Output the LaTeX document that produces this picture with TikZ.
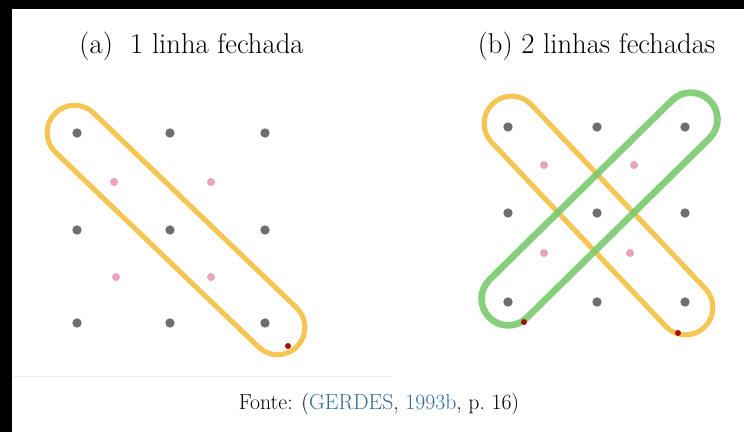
\documentclass[tikz,border=0pt]{standalone}
\usepackage{xcolor}
\usetikzlibrary{positioning}

\definecolor{dotgray}{HTML}{6E6E6E}
\definecolor{dotpink}{HTML}{E9A3C0}
\definecolor{endred}{HTML}{A50F0F}
\definecolor{loopyel}{HTML}{F5C654}
\definecolor{loopgrn}{HTML}{7BC96F}
\definecolor{citeblue}{HTML}{2E6B97}

\begin{document}
\begin{tikzpicture}[
  x=0.75pt, y=-0.75pt,
  g/.style={circle, fill=dotgray, inner sep=0pt, minimum size=7pt},
  p/.style={circle, fill=dotpink, inner sep=0pt, minimum size=6pt},
  e/.style={circle, fill=endred, inner sep=0pt, minimum size=4.5pt},
  lp/.style={draw=loopyel, line width=3.8pt, inner sep=0pt,
             minimum height=41pt, rounded corners=20.5pt},
  lg/.style={draw=loopgrn, line width=5pt, inner sep=0pt, opacity=.9,
             minimum height=40pt, rounded corners=20pt},
  ttl/.style={font=\fontsize{21.5}{24}\selectfont},
  srctxt/.style={font=\fontsize{16.3}{19}\selectfont}
]
\useasboundingbox (0,0) rectangle (744,432);
\fill[black] (0,0) rectangle (744,432);
\fill[white] (12,9) rectangle (744,432);
\draw[black!7] (12,376) -- (392,376);

% (a) one closed line
\node[ttl] (ta) at (191.5,46) {(a)\ \ 1 linha fechada};
\node[lp, minimum width=252pt, rotate=-43.8] (la) at (176,230) {};
\foreach \i/\x in {1/77,2/170,3/265}
  \foreach \j/\y in {1/133,2/230,3/323}
    \node[g] (a\j\i) at (\x,\y) {};
\node[p] (pa1) at (114,182) {};
\node[p] (pa2) at (211,182) {};
\node[p] (pa3) at (116,277) {};
\node[p] (pa4) at (211,277) {};
\node[e] (ea) at (288,346) {};

% (b) two closed lines
\node[ttl] (tb) at (596.5,46) {(b) 2 linhas fechadas};
\node[lp, minimum width=231pt, rotate=-46.6] (lb1) at (598.5,215.5) {};
\node[lg, minimum width=232pt, rotate=44.5] (lb2) at (599.5,209) {};
\foreach \i/\x in {1/508,2/597,3/685}
  \foreach \j/\y in {1/127,2/213,3/302}
    \node[g] (b\j\i) at (\x,\y) {};
\node[p] (pb1) at (544,165) {};
\node[p] (pb2) at (634,165) {};
\node[p] (pb3) at (544,253) {};
\node[p] (pb4) at (630,253) {};
\node[e] (eb1) at (524,322) {};
\node[e] (eb2) at (678,333) {};

% source
\node[srctxt] (src) at (379,404)
  {Fonte: (\textcolor{citeblue}{GERDES}, \textcolor{citeblue}{1993b}, p.~16)};
\end{tikzpicture}
\end{document}
